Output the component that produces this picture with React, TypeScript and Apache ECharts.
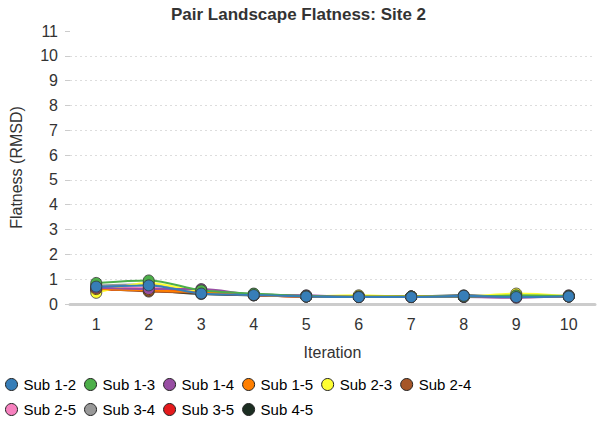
import React, { useEffect, useRef } from "react";
import * as echarts from "echarts";

const iterations = ["1", "2", "3", "4", "5", "6", "7", "8", "9", "10"];
const seriesNames = ["Sub 1-2", "Sub 1-3", "Sub 1-4", "Sub 1-5", "Sub 2-3", "Sub 2-4", "Sub 2-5", "Sub 3-4", "Sub 3-5", "Sub 4-5"];
const seriesColors = ["#377eb8", "#4daf4a", "#984ea3", "#ff7f00", "#ffff33", "#a65628", "#f781bf", "#999999", "#e41a1c", "#1c2e22"];
const sub12 = [0.7, 0.75, 0.42, 0.36, 0.3, 0.28, 0.28, 0.33, 0.28, 0.3];
const sub13 = [0.85, 0.95, 0.55, 0.42, 0.32, 0.3, 0.3, 0.3, 0.35, 0.32];
const sub14 = [0.65, 0.6, 0.6, 0.38, 0.35, 0.28, 0.28, 0.28, 0.25, 0.33];
const sub15 = [0.6, 0.55, 0.48, 0.36, 0.3, 0.3, 0.3, 0.3, 0.3, 0.3];
const sub23 = [0.45, 0.85, 0.5, 0.38, 0.32, 0.35, 0.3, 0.3, 0.42, 0.32];
const sub24 = [0.62, 0.5, 0.45, 0.35, 0.3, 0.3, 0.3, 0.3, 0.3, 0.3];
const sub25 = [0.68, 0.65, 0.55, 0.37, 0.33, 0.28, 0.28, 0.3, 0.28, 0.35];
const sub34 = [0.75, 0.8, 0.5, 0.4, 0.32, 0.3, 0.3, 0.3, 0.3, 0.3];
const sub35 = [0.55, 0.6, 0.45, 0.35, 0.3, 0.3, 0.28, 0.3, 0.28, 0.32];
const sub45 = [0.6, 0.55, 0.4, 0.35, 0.3, 0.28, 0.3, 0.35, 0.3, 0.3];
const seriesValues = [sub12, sub13, sub14, sub15, sub23, sub24, sub25, sub34, sub35, sub45];
const legendRow1 = seriesNames.slice(0, 6);
const legendRow2 = seriesNames.slice(6);

export default function App() {
  const ref = useRef<HTMLDivElement>(null);
  useEffect(() => {
    const chart = echarts.init(ref.current!, null, { renderer: "svg" });
    const n = seriesNames.length;
    const legendBase = {
      left: 5,
      orient: "horizontal",
      itemGap: 8,
      itemWidth: 12,
      itemHeight: 12,
      icon: "circle",
      padding: 0,
      textStyle: { fontFamily: "Liberation Sans", fontSize: 15, color: "#000", padding: [0, 0, 0, 1] },
    };
    const legendItems = (names: string[]) =>
      names.map((name) => {
        const i = seriesNames.indexOf(name);
        return { name, itemStyle: { color: seriesColors[i], borderColor: "#222", borderWidth: 1 } };
      });
    chart.setOption({
      animation: false,
      title: {
        text: "Pair Landscape Flatness: Site 2",
        left: "center",
        top: 1,
        textStyle: { fontFamily: "Liberation Sans", fontSize: 17, fontWeight: "bold", color: "#333" },
      },
      legend: [
        { ...legendBase, top: 377, data: legendItems(legendRow1) },
        { ...legendBase, top: 402, data: legendItems(legendRow2) },
      ],
      grid: { left: 66, right: 2, top: 31, bottom: 129 },
      xAxis: {
        type: "category",
        data: iterations,
        boundaryGap: true,
        name: "Iteration",
        nameLocation: "middle",
        nameGap: 40,
        nameTextStyle: { fontFamily: "Liberation Sans", fontSize: 16, color: "#333" },
        axisLine: { lineStyle: { color: "#ccc", width: 3 } },
        axisTick: { alignWithLabel: true, length: 5, lineStyle: { color: "#ccc" } },
        axisLabel: { fontFamily: "Liberation Sans", fontSize: 16, color: "#333", margin: 12 },
        splitLine: { show: false },
      },
      yAxis: {
        type: "value",
        min: 0,
        max: 11,
        interval: 1,
        name: "Flatness (RMSD)",
        nameLocation: "middle",
        nameGap: 46,
        nameTextStyle: { fontFamily: "Liberation Sans", fontSize: 16, color: "#333" },
        axisLine: { show: false },
        axisTick: { show: true, length: 5, lineStyle: { color: "#ccc" } },
        axisLabel: { fontFamily: "Liberation Sans", fontSize: 16, color: "#333", margin: 12 },
        splitLine: {
          show: true,
          lineStyle: { color: "#ddd", type: [2, 3], width: 1 },
          showMaxLine: false,
          showMinLine: false,
        } as any,
      },
      series: seriesNames.map((name, i) => ({
        name,
        type: "line",
        data: seriesValues[i],
        smooth: 0.3,
        z: 2 + (n - i),
        symbol: "circle",
        symbolSize: 11,
        lineStyle: { color: seriesColors[i], width: 2 },
        itemStyle: { color: seriesColors[i], borderColor: "#333", borderWidth: 0.8 },
      })),
    });
    return () => chart.dispose();
  }, []);
  return <div ref={ref} style={{ width: 597, height: 433, position: "absolute", left: 0, top: 0, background: "#fff" }} />;
}
